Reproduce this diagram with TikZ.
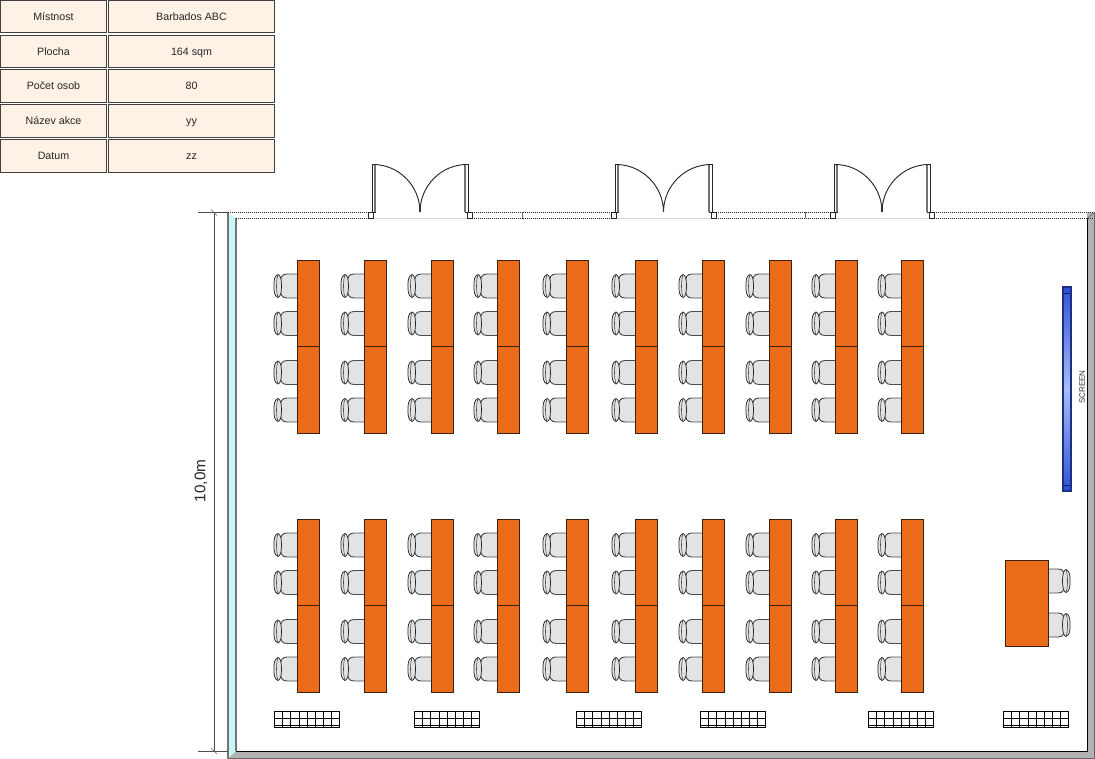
\documentclass[tikz,border=0pt]{standalone}
\usepackage{fontspec}
\setmainfont{Liberation Sans}
\definecolor{cellfill}{HTML}{FEF1E6}
\definecolor{tablefill}{HTML}{EA6B1A}
\definecolor{tableline}{HTML}{3A2010}
\definecolor{chairfill}{HTML}{E2E3E5}
\definecolor{wallgray}{HTML}{B2B2B2}
\definecolor{wallcyan}{HTML}{C4F6FA}
\definecolor{screenblue}{HTML}{2F52D8}
\definecolor{screenlight}{HTML}{A8BDF5}
\tikzset{
  cell/.style={draw=black!75,fill=cellfill,line width=0.9pt,minimum height=24.2pt,inner sep=0pt,text height=6pt,text depth=0.6pt,font=\fontsize{8pt}{9pt}\selectfont,text=black!85},
  desk/.style={draw=tableline,fill=tablefill,line width=0.7pt},
  deskmid/.style={draw=tableline,line width=1.1pt},
  chairpart/.style={draw=black!85,fill=chairfill,line width=0.55pt},
  chairseat/.style={draw=black!70,fill=chairfill,line width=0.7pt},
  wallline/.style={draw=black,line width=0.65pt},
  outerline/.style={draw=black!60,line width=0.7pt},
  dashwall/.style={draw=black!85,line width=0.7pt,dash pattern=on 1pt off 0.5pt},
  dimline/.style={draw=black!70,line width=0.7pt},
  doorarc/.style={draw=black!85,line width=0.7pt},
  jamb/.style={draw=black!85,fill=white,line width=0.6pt},
  jambin/.style={draw=black!55,line width=1.1pt},
  sill/.style={draw=black!15,line width=0.5pt},
  radline/.style={draw=black,line width=0.55pt},
}
% chair facing a desk on its right: #1 x of the desk edge, #2 y centre
\newcommand{\chairL}[2]{%
  \draw[chairseat] (#1,#2-12) -- (#1-10,#2-12) .. controls (#1-15,#2-12) and (#1-17,#2-9) .. (#1-17,#2) .. controls (#1-17,#2+9) and (#1-15,#2+12) .. (#1-10,#2+12) -- (#1,#2+12);
  \draw[chairpart] (#1-19,#2-11.5) .. controls (#1-16.5,#2-11) and (#1-15.5,#2-6) .. (#1-15.5,#2) .. controls (#1-15.5,#2+6) and (#1-16.5,#2+11) .. (#1-19,#2+11.5) .. controls (#1-23,#2+10) and (#1-23,#2+5) .. (#1-23,#2) .. controls (#1-23,#2-5) and (#1-23,#2-10) .. (#1-19,#2-11.5) -- cycle;
  \draw[draw=black!70,line width=0.45pt] (#1-19,#2-11.5) .. controls (#1-21,#2-6) and (#1-21,#2+6) .. (#1-19,#2+11.5);
}
\newcommand{\chairR}[2]{%
  \draw[chairseat] (#1,#2-12) -- (#1+10,#2-12) .. controls (#1+15,#2-12) and (#1+17,#2-9) .. (#1+17,#2) .. controls (#1+17,#2+9) and (#1+15,#2+12) .. (#1+10,#2+12) -- (#1,#2+12);
  \draw[chairpart] (#1+18,#2-11.5) .. controls (#1+15.5,#2-11) and (#1+14.5,#2-6) .. (#1+14.5,#2) .. controls (#1+14.5,#2+6) and (#1+15.5,#2+11) .. (#1+18,#2+11.5) .. controls (#1+22,#2+10) and (#1+22,#2+5) .. (#1+22,#2) .. controls (#1+22,#2-5) and (#1+22,#2-10) .. (#1+18,#2-11.5) -- cycle;
  \draw[draw=black!70,line width=0.45pt] (#1+18,#2-11.5) .. controls (#1+20,#2-6) and (#1+20,#2+6) .. (#1+18,#2+11.5);
}
% radiator: #1 left x
\newcommand{\radiator}[1]{%
  \draw[draw=black!55,line width=1.1pt] (#1,711.5) -- (#1,727.5) (#1+65,711.5) -- (#1+65,727.5);
  \draw[radline] (#1,711.5) rectangle (#1+65,727.5);
  \draw[radline] (#1,718) -- (#1+65,718) (#1,725) -- (#1+65,725);
  \foreach \kk in {1,...,7} {\draw[radline] (#1+\kk*8.125,711.5) -- (#1+\kk*8.125,727.5);}
}
% double door: #1 left hinge x, #2 right hinge x, #3 meeting x
\newcommand{\ddoor}[3]{%
  \draw[sill] (#1,218.5) -- (#2,218.5);
  \draw[jamb] (#1,164) rectangle (#1+3,212);
  \draw[jamb] (#2-3,164) rectangle (#2,212);
  \draw[jambin] (#1+3,165) -- (#1+3,212);
  \draw[jambin] (#2-3,165) -- (#2-3,212);
  \draw[doorarc] (#1+1,164.5) .. controls (#1+27,164.5) and (#3,186) .. (#3,212);
  \draw[doorarc] (#2-1,164.5) .. controls (#2-27,164.5) and (#3,186) .. (#3,212);
  \draw[draw=black!80,line width=1pt] (#3,204) -- (#3,212);
  \draw[jamb] (#1-4,212) rectangle (#1+1,218.5);
  \draw[jamb] (#2-1,212) rectangle (#2+4,218.5);
}
\begin{document}
\begin{tikzpicture}[x=0.75pt,y=-0.75pt]
\useasboundingbox (0,0) rectangle (1095,759);
% info table
\foreach \nn/\ta/\tb/\yy in {r1/Místnost/Barbados ABC/16.5,r2/Plocha/164 sqm/51.5,r3/Počet osob/80/86,r4/Název akce/yy/121,r5/Datum/zz/156} {
  \node[cell,minimum width=79.2pt] (\nn a) at (53.5,\yy) {\ta};
  \node[cell,minimum width=124.6pt] (\nn b) at (191.5,\yy) {\tb};
}
% walls
\fill[wallgray] (1087,212.5) -- (1094.5,212.5) -- (1094.5,758.5) -- (228,758.5) -- (236,751) -- (1087,751) -- cycle;
\fill[wallcyan] (228,212.5) -- (236,218.5) -- (236,751) -- (228,758.5) -- cycle;
\draw[outerline] (1094.5,212.5) -- (1094.5,758.5) -- (228,758.5);
\draw[wallline] (1087,218.5) -- (1087,751) -- (236,751);
\draw[draw=black!55,line width=0.9pt] (228,212.5) -- (228,758.5);
\draw[draw=black!55,line width=1.2pt] (236,218.5) -- (236,751);
\draw[draw=black!60,line width=0.5pt] (1087,218.5) -- (1094.5,212.5);
% dashed top wall
\foreach \xa/\xb/\xc in {228/368/236,472/522.5/472,522.5/611/522.5,716/805.5/716,805.5/830/805.5,934/1094/934} {
  \draw[dashwall] (\xa,212.5) -- (\xb,212.5);
  \draw[dashwall] (\xc,218.5) -- (\xb,218.5);
}
\draw[draw=black!60,line width=0.5pt] (522.5,212.5) -- (522.5,218.5) (805.5,212.5) -- (805.5,218.5);
% doors
\ddoor{372}{468}{420}
\ddoor{615}{712}{663.5}
\ddoor{834}{930}{882}
% desks and chairs
\foreach \xx in {297,364,431,497,566,635,702,769,835,901} {
  \foreach \dy in {0,259} {
    \foreach \cy in {286,323.5,372.5,410} {\chairL{\xx}{\cy+\dy}}
    \draw[desk] (\xx,260+\dy) rectangle (\xx+22,433+\dy);
    \draw[deskmid] (\xx,346.5+\dy) -- (\xx+22,346.5+\dy);
  }
}
% speaker desk
\chairR{1048}{581}
\chairR{1048}{625}
\draw[desk] (1005,560) rectangle (1048.5,646.5);
% radiators
\foreach \xx in {274.5,414.5,576.5,700.5,868.5,1003.5} {\radiator{\xx}}
% screen
\shade[top color=screenblue,bottom color=screenlight] (1063,287) rectangle (1071,389);
\shade[top color=screenlight,bottom color=screenblue] (1063,389) rectangle (1071,491);
\draw[draw=screenblue!40!black,line width=0.7pt,fill=screenblue] (1063,287) rectangle (1071,293);
\draw[draw=screenblue!40!black,line width=0.7pt,fill=screenblue] (1063,485) rectangle (1071,491);
\draw[draw=screenblue!60!black,line width=0.8pt] (1063,287) rectangle (1071,491);
\node[rotate=90,inner sep=0pt,font=\fontsize{6pt}{7pt}\selectfont,text=black!80] (screenlabel) at (1082,387) {SCREEN};
% dimension
\coordinate (dimtopL) at (198,212.5);
\coordinate (dimtopR) at (228,212.5);
\coordinate (dimbotL) at (198,751);
\coordinate (dimbotR) at (228,751);
\coordinate (dimtop) at (214,212.5);
\coordinate (dimbot) at (214,751);
\draw[dimline] (dimtopL) -- (dimtopR);
\draw[dimline] (dimbotL) -- (dimbotR);
\draw[dimline] (dimtop) -- (dimbot);
\draw[draw=black!60,line width=0.5pt] (211,209.5) -- (217,215.5) (211,748) -- (217,754);
\node[rotate=90,inner sep=0pt,font=\fontsize{11.5pt}{13pt}\selectfont,text=black!85] (dimlabel) at (201,481) {10,0m};
\end{tikzpicture}
\end{document}
